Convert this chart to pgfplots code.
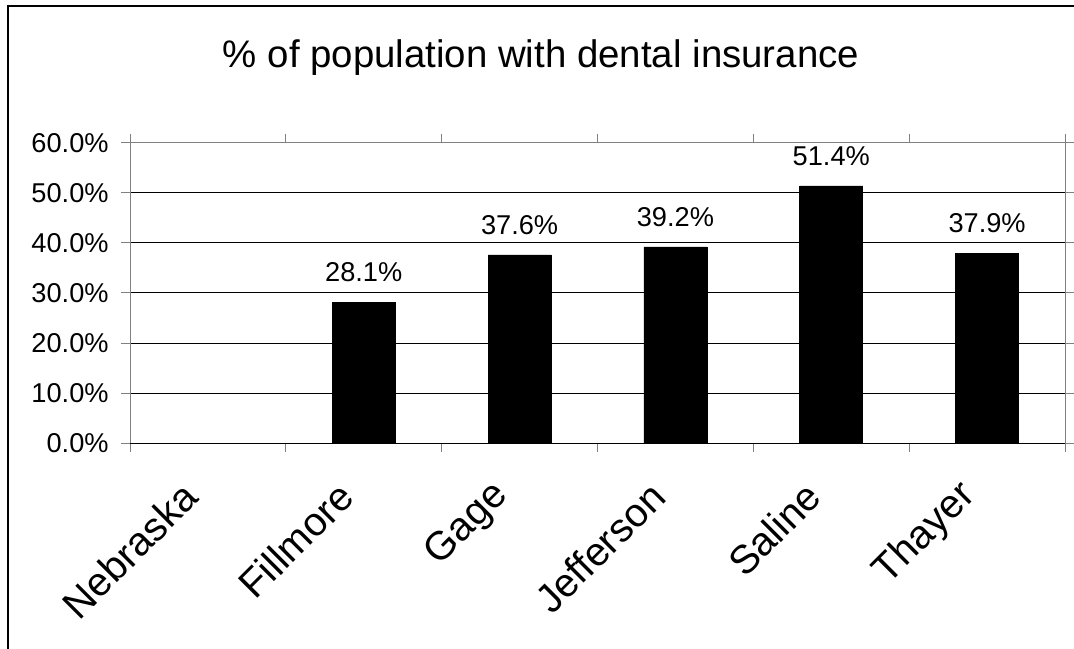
\documentclass[border=0pt]{standalone}
\usepackage{fontspec}
\setmainfont{Liberation Sans}
\usepackage{pgfplots}
\pgfplotsset{compat=1.18}
\begin{document}
\begin{tikzpicture}
\useasboundingbox (0,0) rectangle (537pt,324pt);
% outer chart frame (only top and left edges are visible)
\draw[line width=0.6pt] (4pt,-10pt) -- (4pt,321pt) -- (560pt,321pt);
\node[anchor=base, font=\fontsize{19.2}{23}\selectfont] at (270.5pt,290pt)
  {\% of population with dental insurance};
\begin{axis}[
    at={(65pt,102.5pt)}, anchor=south west,
    scale only axis, width=467.5pt, height=150pt,
    xmin=-0.5, xmax=5.5, ymin=0, ymax=60,
    axis line style={gray, line width=0.5pt},
    tick align=outside, major tick length=4.5pt,
    tick style={gray, line width=0.5pt},
    ytick={0,10,...,60},
    yticklabels={0.0\%,10.0\%,20.0\%,30.0\%,40.0\%,50.0\%,60.0\%},
    yticklabel style={font=\fontsize{13.6}{16}\selectfont, anchor=east, inner sep=0pt, xshift=-6pt},
    ymajorgrids, grid style={black, line width=0.5pt},
    xtick={-0.5,0.5,1.5,2.5,3.5,4.5,5.5},
    xticklabels={},
    extra x ticks={0,1,2,3,4,5},
    extra x tick labels={Nebraska,Fillmore,Gage,Jefferson,Saline,Thayer},
    extra x tick style={major tick length=0pt,
      xticklabel style={font=\fontsize{20}{24}\selectfont, xshift=-8.7pt, yshift=-23.3pt,
        rotate=45, anchor=east, inner sep=0pt}},
    clip=false,
]
\addplot[ybar, bar width=31.5pt, fill=black, draw=black,
    nodes near coords={\pgfmathprintnumber[fixed,fixed zerofill,precision=1,assume math mode=true]{\pgfplotspointmeta}\%},
    nodes near coords style={font=\fontsize{13.6}{16}\selectfont, anchor=south, inner sep=0pt, yshift=10pt}]
  coordinates {(1,28.1) (2,37.6) (3,39.2) (4,51.4) (5,37.9)};
\draw[black, line width=0.5pt] (axis cs:-0.5,0) -- (axis cs:5.5,0);
\end{axis}
\end{tikzpicture}
\end{document}
